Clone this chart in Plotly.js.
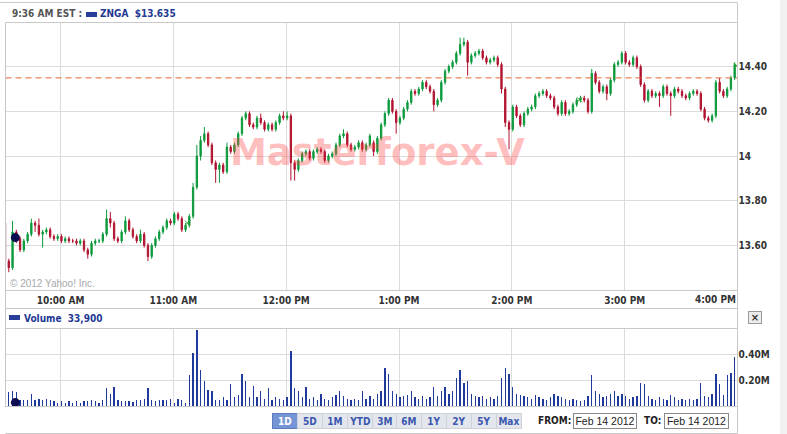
<!DOCTYPE html>
<html><head><meta charset="utf-8">
<script src="https://cdn.plot.ly/plotly-3.0.1.min.js"></script>
<style>html,body{margin:0;padding:0;background:#fff;overflow:hidden}#chart{width:787px;height:434px}</style>
</head><body><div id="chart"></div>
<script>
// ---------------- DATA ----------------
const dayStr = '2012-02-14';
const sessionStartMin = 9 * 60 + 30;   // 9:30 AM
const barMinutes = 2;                   // each candle = 2 minutes
const openP = [
13.70,13.53,13.50,13.66,13.63,13.58,13.62,13.65,13.70,13.69,
13.65,13.66,13.67,13.64,13.63,13.64,13.62,13.63,13.62,13.62,
13.61,13.62,13.58,13.56,13.61,13.62,13.62,13.65,13.72,13.70,
13.63,13.62,13.66,13.71,13.67,13.64,13.62,13.65,13.60,13.55,
13.60,13.63,13.66,13.68,13.71,13.70,13.74,13.72,13.67,13.69,
13.73,13.86,14.00,14.07,14.10,14.05,13.97,13.94,13.96,13.93,
14.04,14.02,14.05,14.10,14.17,14.19,14.14,14.13,14.17,14.15,
14.12,14.14,14.12,14.15,14.18,14.17,14.18,13.97,13.94,13.98,
14.01,14.02,13.99,14.02,14.03,14.02,13.98,14.00,14.01,14.05,
14.09,14.10,14.05,14.03,14.04,14.06,14.03,14.05,14.06,14.02,
14.08,14.14,14.19,14.25,14.20,14.15,14.17,14.21,14.24,14.29,
14.28,14.30,14.33,14.31,14.29,14.23,14.25,14.33,14.38,14.40,
14.42,14.46,14.50,14.51,14.42,14.45,14.46,14.47,14.44,14.42,
14.43,14.44,14.41,14.30,14.15,14.12,14.22,14.18,14.14,14.19,
14.21,14.22,14.27,14.28,14.29,14.27,14.26,14.22,14.19,14.24,
14.19,14.20,14.23,14.25,14.26,14.25,14.20,14.37,14.33,14.29,
14.31,14.28,14.34,14.41,14.42,14.46,14.42,14.41,14.44,14.40,
14.32,14.25,14.29,14.27,14.28,14.27,14.31,14.28,14.27,14.30,
14.29,14.27,14.26,14.28,14.29,14.28,14.21,14.17,14.16,14.18,
14.33,14.29,14.27,14.30,14.35];
const highP = [
13.71,13.54,13.71,13.67,13.64,13.63,13.66,13.72,13.71,13.72,
13.67,13.68,13.68,13.65,13.65,13.65,13.64,13.64,13.63,13.63,
13.63,13.63,13.59,13.62,13.63,13.63,13.66,13.76,13.75,13.71,
13.64,13.67,13.73,13.72,13.68,13.65,13.67,13.66,13.61,13.61,
13.64,13.67,13.69,13.72,13.72,13.75,13.75,13.73,13.70,13.74,
13.88,14.05,14.09,14.13,14.11,14.06,13.98,13.97,13.97,14.06,
14.05,14.06,14.11,14.18,14.20,14.20,14.15,14.18,14.19,14.16,
14.15,14.15,14.16,14.19,14.20,14.20,14.19,13.98,13.99,14.02,
14.03,14.03,14.03,14.04,14.04,14.03,14.01,14.02,14.06,14.10,
14.12,14.11,14.06,14.05,14.07,14.07,14.06,14.10,14.07,14.09,
14.15,14.20,14.26,14.26,14.21,14.18,14.22,14.25,14.30,14.30,
14.31,14.34,14.34,14.32,14.30,14.26,14.34,14.39,14.41,14.43,
14.47,14.53,14.53,14.52,14.46,14.47,14.48,14.48,14.45,14.44,
14.45,14.45,14.42,14.31,14.16,14.23,14.23,14.19,14.20,14.22,
14.23,14.28,14.29,14.30,14.30,14.28,14.27,14.23,14.25,14.25,
14.21,14.24,14.26,14.27,14.27,14.26,14.39,14.38,14.34,14.32,
14.32,14.35,14.42,14.43,14.47,14.47,14.43,14.45,14.45,14.41,
14.33,14.30,14.30,14.29,14.29,14.32,14.32,14.29,14.31,14.31,
14.30,14.28,14.29,14.30,14.30,14.29,14.22,14.18,14.19,14.34,
14.35,14.30,14.31,14.36,14.42];
const lowP = [
13.52,13.48,13.49,13.61,13.57,13.57,13.61,13.64,13.66,13.64,
13.59,13.65,13.63,13.62,13.62,13.61,13.61,13.61,13.61,13.60,
13.60,13.57,13.54,13.55,13.60,13.61,13.61,13.64,13.68,13.62,
13.61,13.61,13.65,13.66,13.63,13.61,13.61,13.59,13.53,13.54,
13.59,13.62,13.65,13.67,13.69,13.69,13.71,13.66,13.66,13.68,
13.72,13.85,13.98,14.06,14.04,13.96,13.88,13.88,13.92,13.92,
14.01,14.01,14.04,14.09,14.16,14.13,14.12,14.12,14.14,14.11,
14.11,14.11,14.11,14.14,14.16,14.16,13.89,13.89,13.93,13.97,
14.00,13.98,13.98,14.01,14.01,13.97,13.97,13.99,14.00,14.04,
14.08,14.04,14.02,14.02,14.03,14.02,14.02,14.04,14.00,14.01,
14.07,14.13,14.18,14.19,14.10,14.14,14.16,14.20,14.23,14.27,
14.27,14.29,14.30,14.28,14.20,14.22,14.24,14.32,14.37,14.39,
14.41,14.45,14.49,14.36,14.41,14.44,14.45,14.43,14.41,14.41,
14.42,14.40,14.28,14.13,14.03,14.11,14.17,14.13,14.13,14.18,
14.20,14.21,14.26,14.27,14.26,14.25,14.21,14.18,14.18,14.18,
14.18,14.19,14.22,14.24,14.24,14.19,14.19,14.32,14.28,14.28,
14.25,14.27,14.33,14.40,14.41,14.41,14.40,14.40,14.39,14.31,
14.24,14.24,14.26,14.26,14.22,14.26,14.27,14.18,14.26,14.28,
14.26,14.25,14.25,14.27,14.27,14.20,14.16,14.15,14.15,14.17,
14.28,14.26,14.26,14.29,14.34];
const closeP = [
13.53,13.50,13.66,13.63,13.58,13.62,13.65,13.70,13.69,13.65,
13.66,13.67,13.64,13.63,13.64,13.62,13.63,13.62,13.62,13.61,
13.62,13.58,13.56,13.61,13.62,13.62,13.65,13.72,13.70,13.63,
13.62,13.66,13.71,13.67,13.64,13.62,13.65,13.60,13.55,13.60,
13.63,13.66,13.68,13.71,13.70,13.74,13.72,13.67,13.69,13.73,
13.86,14.00,14.07,14.10,14.05,13.97,13.94,13.96,13.93,14.04,
14.02,14.05,14.10,14.17,14.19,14.14,14.13,14.17,14.15,14.12,
14.14,14.12,14.15,14.18,14.17,14.18,13.97,13.94,13.98,14.01,
14.02,13.99,14.02,14.03,14.02,13.98,14.00,14.01,14.05,14.09,
14.10,14.05,14.03,14.04,14.06,14.03,14.05,14.09,14.02,14.08,
14.14,14.19,14.25,14.20,14.15,14.17,14.21,14.24,14.29,14.28,
14.30,14.33,14.31,14.29,14.23,14.25,14.33,14.38,14.40,14.42,
14.46,14.50,14.51,14.42,14.45,14.46,14.47,14.44,14.42,14.43,
14.44,14.41,14.30,14.15,14.12,14.22,14.18,14.14,14.19,14.21,
14.22,14.27,14.28,14.29,14.27,14.26,14.22,14.19,14.24,14.19,
14.20,14.23,14.25,14.26,14.25,14.20,14.37,14.33,14.29,14.31,
14.28,14.34,14.41,14.42,14.46,14.42,14.41,14.44,14.40,14.32,
14.25,14.29,14.27,14.28,14.27,14.31,14.28,14.27,14.30,14.29,
14.27,14.26,14.28,14.29,14.28,14.21,14.17,14.16,14.18,14.33,
14.29,14.27,14.30,14.35,14.41];
const volumeM = [
0.36,0.11,0.12,0.11,0.05,0.05,0.05,0.10,0.05,0.06,
0.05,0.06,0.05,0.04,0.03,0.04,0.03,0.04,0.03,0.04,
0.03,0.04,0.04,0.05,0.04,0.03,0.05,0.14,0.10,0.15,
0.05,0.04,0.04,0.04,0.035,0.05,0.05,0.06,0.14,0.05,
0.04,0.05,0.05,0.05,0.06,0.03,0.06,0.05,0.03,0.24,
0.41,0.585,0.28,0.20,0.13,0.12,0.05,0.05,0.07,0.05,
0.17,0.07,0.09,0.25,0.20,0.07,0.16,0.07,0.12,0.06,
0.14,0.05,0.07,0.06,0.05,0.07,0.43,0.14,0.12,0.07,
0.15,0.06,0.07,0.05,0.10,0.06,0.05,0.07,0.09,0.12,
0.08,0.06,0.05,0.06,0.05,0.12,0.06,0.08,0.06,0.10,
0.12,0.30,0.25,0.12,0.10,0.07,0.08,0.09,0.12,0.07,
0.06,0.08,0.06,0.07,0.15,0.08,0.12,0.15,0.10,0.12,
0.22,0.28,0.18,0.20,0.10,0.08,0.07,0.08,0.06,0.07,
0.06,0.08,0.22,0.30,0.25,0.15,0.10,0.09,0.08,0.07,
0.06,0.09,0.07,0.06,0.05,0.07,0.10,0.08,0.07,0.06,
0.05,0.06,0.05,0.04,0.05,0.08,0.24,0.12,0.10,0.07,
0.08,0.10,0.12,0.08,0.10,0.08,0.06,0.07,0.08,0.18,
0.17,0.08,0.06,0.05,0.07,0.06,0.05,0.09,0.07,0.05,
0.06,0.05,0.06,0.05,0.06,0.18,0.08,0.07,0.10,0.25,
0.17,0.09,0.24,0.26,0.38];
const prevClose = 14.35;
const hoverTime = '2012-02-14 09:36:00', hoverPrice = 13.635, hoverVol = 0.03;
const eventTimes = ['2012-02-14 11:07:30','2012-02-14 14:36:00','2012-02-14 15:59:20'];
const eventPrices = [13.70, 14.252, 14.404];
const hourTicks = ['2012-02-14 10:00','2012-02-14 11:00','2012-02-14 12:00','2012-02-14 13:00','2012-02-14 14:00','2012-02-14 15:00'];
const hourLabels = ['10:00 AM','11:00 AM','12:00 PM','1:00 PM','2:00 PM','3:00 PM'];
const lastHourLabel = '4:00 PM';
const priceTicks = [13.6, 13.8, 14.0, 14.2, 14.4];
const priceLabels = ['13.60','13.80','14','14.20','14.40'];
const volTicks = [0.2, 0.4];
const volLabels = ['0.20M','0.40M'];
const rangeLabels = ['1D','5D','1M','YTD','3M','6M','1Y','2Y','5Y','Max'];
const headerTime = '9:36 AM EST :';
const headerQuote = 'ZNGA\u00a0 $13.635';
const volumeHeader = 'Volume\u00a0 33,900';
const dateText = 'Feb 14 2012';

// -------------- BUILD ---------------
function stamp(minF){
  const s = Math.round(minF*60);
  const h = Math.floor(s/3600), m = Math.floor((s%3600)/60), sec = s%60;
  const p = n => String(n).padStart(2,'0');
  return dayStr + ' ' + p(h) + ':' + p(m) + ':' + p(sec);
}
const times = closeP.map((_, i) => stamp(sessionStartMin + i*barMinutes + 0.5));
const xStart = '2012-02-14 09:30:45', xEnd = '2012-02-14 16:00:00';

const W = 787, H = 434;
const PX = x => x / W, PY = y => 1 - y / H;
const FONT = 'DejaVu Sans Condensed, Liberation Sans, Arial, sans-serif';
const GREEN = '#0b9a3c', RED = '#b0122e', GRID = '#dcdcdc', FRAME = '#c9c9c9';
const BLUE = '#1f3a93';

const traces = [
  {type:'scatter', mode:'lines', x:[xStart, xEnd], y:[prevClose, prevClose],
   line:{color:'#e0662f', width:1, dash:'6px,4px'}, hoverinfo:'skip', xaxis:'x', yaxis:'y'},
  {type:'candlestick', x:times, open:openP, high:highP, low:lowP, close:closeP,
   increasing:{line:{color:GREEN, width:1}, fillcolor:GREEN},
   decreasing:{line:{color:RED, width:1}, fillcolor:RED},
   whiskerwidth:0, hoverinfo:'skip', xaxis:'x', yaxis:'y'},
  {type:'scatter', mode:'markers', x:eventTimes, y:eventPrices,
   marker:{symbol:'x-thin-open', size:5, line:{color:'#3b5bd6', width:1}}, hoverinfo:'skip', xaxis:'x', yaxis:'y'},
  {type:'scatter', mode:'markers', x:[hoverTime], y:[hoverPrice],
   marker:{size:9, color:'#0c0c50'}, hoverinfo:'skip', xaxis:'x', yaxis:'y'},
  {type:'bar', x:times, y:volumeM, width:42000, marker:{color:'#1f3a9a', line:{width:0}},
   hoverinfo:'skip', xaxis:'x2', yaxis:'y2'},
  {type:'scatter', mode:'markers', x:[hoverTime], y:[hoverVol],
   marker:{size:9, color:'#0c0c50'}, hoverinfo:'skip', xaxis:'x2', yaxis:'y2', cliponaxis:false}
];

const tickFont = {family:FONT, size:10, weight:'bold', color:'#333'};
const shapes = [];
function line(x0,y0,x1,y1,color){ shapes.push({type:'line', xref:'paper', yref:'paper', x0:PX(x0), y0:PY(y0), x1:PX(x1), y1:PY(y1), line:{color:color||FRAME, width:1}}); }
function rect(x0,y0,x1,y1,fill,lc){ shapes.push({type:'rect', xref:'paper', yref:'paper', x0:PX(x0), y0:PY(y0), x1:PX(x1), y1:PY(y1), fillcolor:fill||'rgba(0,0,0,0)', line:{color:lc||FRAME, width:lc==='none'?0:1}}); }
line(0,2.5,737.5,2.5);
line(5.5,22.5,737.5,22.5);
line(5.5,22.5,5.5,406.5);
line(737.5,2.5,737.5,434);
line(5.5,290.5,737.5,290.5);
line(5.5,308.5,737.5,308.5);
line(5.5,328.5,737.5,328.5);
line(5.5,406.5,737.5,406.5);
line(5.5,433.5,737.5,433.5);
rect(780,0,787,434,'#f2f2f2','none');
rect(86,12,97,17,'#2a3f9a','none');
rect(9,315,20,320,'#2a3f9a','none');

const annotations = [];
function txt(text, x, y, opt){
  annotations.push(Object.assign({text, x:PX(x), y:PY(y), xref:'paper', yref:'paper', showarrow:false,
    xanchor:'left', yanchor:'middle', font:{family:FONT, size:10, weight:'bold', color:'#333'}}, opt||{}));
}
txt(headerTime, 10, 14, {font:{family:FONT, size:10, weight:'bold', color:'#555'}});
txt(headerQuote, 98, 14, {font:{family:FONT, size:10, weight:'bold', color:BLUE}});
txt('\u00a9 2012 Yahoo! Inc.', 8, 283, {font:{family:'Liberation Sans, Arial, sans-serif', size:10, color:'#a8a8a8'}});
txt('Masterforex-V', 377, 152, {xanchor:'center', font:{family:'DejaVu Sans, sans-serif', size:37, weight:'bold', color:'rgba(255,70,70,0.36)'}});
txt(lastHourLabel, 715, 299, {xanchor:'center', font:tickFont});
txt(volumeHeader, 22, 318, {font:{family:FONT, size:10, weight:'bold', color:BLUE}});
annotations.push({text:'\u00d7', x:PX(755), y:PY(317.5), xref:'paper', yref:'paper', showarrow:false, xanchor:'center', yanchor:'middle',
  width:12, height:11, borderpad:0, bgcolor:'#ececec', bordercolor:'#999', borderwidth:1, font:{family:'DejaVu Sans', size:10, weight:'bold', color:'#333'}});
rangeLabels.forEach((lab, i) => {
  const x0 = 273 + i*24.8;
  const sel = i === 0;
  annotations.push({text:lab, x:PX(x0 + 12.4), y:PY(420.5), xref:'paper', yref:'paper', showarrow:false,
    xanchor:'center', yanchor:'middle', width:23.8, height:14, borderpad:0,
    bgcolor: sel ? '#7695d6' : '#e3e6ec', bordercolor: sel ? '#5d7cc0' : '#cdd1d8', borderwidth:1,
    font:{family:FONT, size:10, weight:'bold', color: sel ? '#ffffff' : '#3a58b0'}});
});
txt('FROM:', 536, 420.5, {font:{family:FONT, size:10, weight:'bold', color:'#222'}});
txt('TO:', 642, 420.5, {font:{family:FONT, size:10, weight:'bold', color:'#222'}});
[[573,637],[664,729]].forEach(([a,b]) => {
  annotations.push({text:dateText, x:PX((a+b)/2), y:PY(420.5), xref:'paper', yref:'paper', showarrow:false,
    xanchor:'center', yanchor:'middle', width:b-a-2, height:14, borderpad:0, bgcolor:'#fff', bordercolor:'#8a8a8a', borderwidth:1,
    font:{family:'Liberation Sans, Arial, sans-serif', size:10.5, color:'#222'}});
});

const layout = {
  width:W, height:H, margin:{l:0,r:0,t:0,b:0}, paper_bgcolor:'#fff', plot_bgcolor:'#fff',
  showlegend:false, boxgap:0.5, bargap:0, dragmode:false, hovermode:false,
  font:{family:FONT, size:10, color:'#333'},
  xaxis:{domain:[PX(5.5),PX(737.5)], type:'date', range:[xStart,xEnd], rangeslider:{visible:false},
    tickmode:'array', tickvals:hourTicks, ticktext:hourLabels, showgrid:true, gridcolor:GRID, gridwidth:1,
    zeroline:false, showline:false, ticks:'', ticklabelstandoff:2, tickfont:tickFont, anchor:'y', fixedrange:true},
  yaxis:{domain:[PY(290.5),PY(22.5)], range:[13.398,14.598], side:'right', tickmode:'array',
    tickvals:priceTicks, ticktext:priceLabels, showgrid:true, gridcolor:GRID, zeroline:false, showline:false,
    ticks:'', tickfont:tickFont, anchor:'x', fixedrange:true},
  xaxis2:{domain:[PX(5.5),PX(737.5)], type:'date', range:[xStart,xEnd], tickmode:'array', tickvals:hourTicks,
    showticklabels:false, showgrid:true, gridcolor:GRID, zeroline:false, showline:false, ticks:'', anchor:'y2', fixedrange:true},
  yaxis2:{domain:[PY(406.5),PY(328.5)], range:[0,0.6], side:'right', tickmode:'array', tickvals:volTicks, ticktext:volLabels,
    showgrid:true, gridcolor:GRID, zeroline:false, showline:false, ticks:'', tickfont:tickFont, anchor:'x2', fixedrange:true},
  shapes, annotations
};
Plotly.newPlot('chart', traces, layout, {staticPlot:true, displayModeBar:false});
</script></body></html>
